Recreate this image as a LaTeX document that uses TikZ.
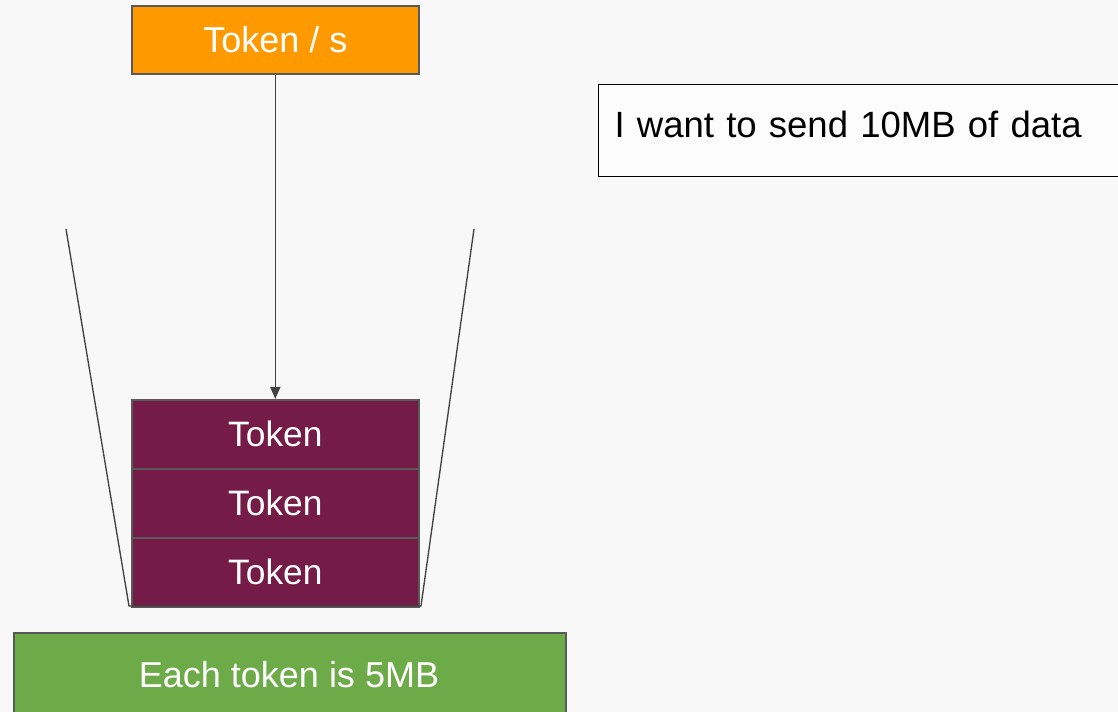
\documentclass[tikz,border=0pt]{standalone}
\usepackage{fontspec}
\setmainfont{Liberation Sans}
\usetikzlibrary{arrows.meta}
\definecolor{bg}{HTML}{F8F8F8}
\definecolor{orng}{HTML}{FF9900}
\definecolor{plum}{HTML}{741B47}
\definecolor{grn}{HTML}{6DAA48}
\definecolor{edge}{HTML}{595959}
\definecolor{arr}{HTML}{424242}
\tikzset{
  box/.style={draw=edge, line width=1.2pt, inner sep=0pt, anchor=north west},
  tokenbox/.style={box, fill=plum, text=white, minimum width=215.25pt, minimum height=51.75pt, font=\fontsize{26.5}{30}\selectfont},
  bucket/.style={draw=arr, line width=1pt},
}
\begin{document}
\begin{tikzpicture}[x=0.75pt, y=-0.75pt]
\fill[bg] (0,0) rectangle (1118,712);
\useasboundingbox (0,0) rectangle (1118,712);
\node[box, fill=orng, text=white, minimum width=215.25pt, minimum height=51pt, font=\fontsize{27}{30}\selectfont] (rate) at (131,5) {Token / s};
\node[box, draw=black, line width=0.9pt, fill=white!60!bg, minimum width=389.25pt, minimum height=69pt, text width=375pt, align=left, inner xsep=12pt, text depth=9pt, font=\fontsize{27.4}{32}\selectfont] (want) at (598,84) {I want to send 10MB of data};
\node[tokenbox] (t1) at (131,399) {Token};
\node[tokenbox] (t2) at (131,468) {Token};
\node[tokenbox] (t3) at (131,537) {Token};
\node[box, fill=grn, text=white, minimum width=414pt, minimum height=66pt, font=\fontsize{27}{31}\selectfont] (each) at (13,632) {};
\node[text=white, font=\fontsize{27}{31}\selectfont] (eachtxt) at (289,675) {Each token is 5MB};
\coordinate (bl) at (129,606);
\coordinate (br) at (421,606);
\coordinate (tl) at (66,229);
\coordinate (tr) at (474,229);
\draw[bucket] (tl) -- (bl) -- (br) -- (tr);
\draw[draw=arr, line width=1.2pt, -{Triangle[length=9pt, width=7.5pt]}] (rate.south) -- (t1.north);
\end{tikzpicture}
\end{document}
